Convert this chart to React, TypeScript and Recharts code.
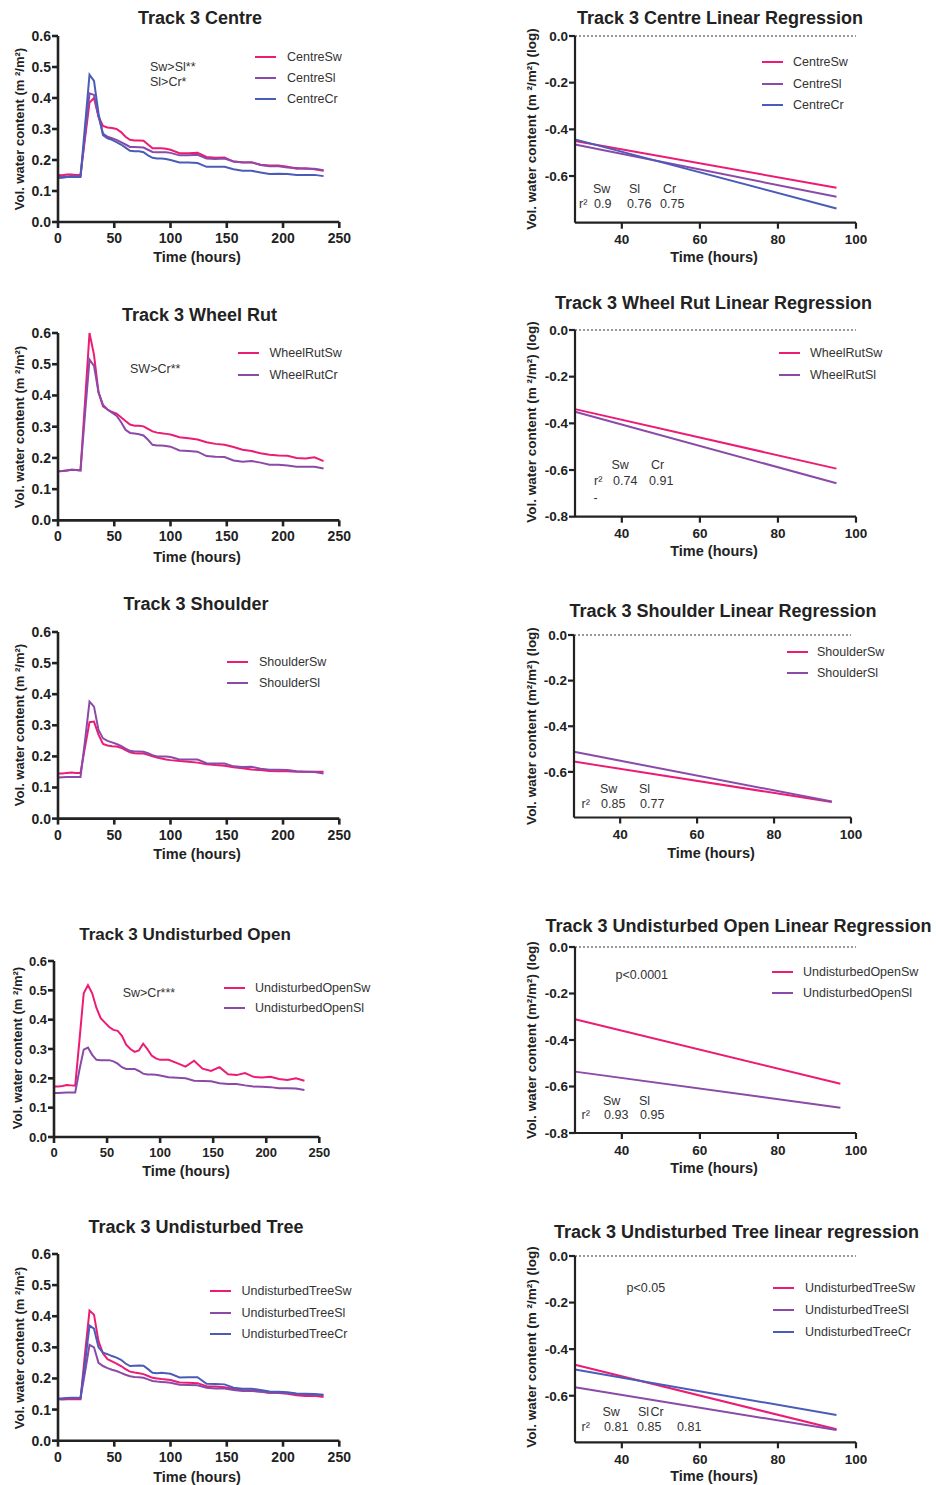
import React from "react";
import { LineChart, Line, XAxis, YAxis, ReferenceLine } from "recharts";

const FONT = '"Liberation Sans", Arial, Helvetica, sans-serif';
const INK = "#222";
const TEXT = "#333";
const SW = "#ec1c74";
const SL = "#8b4aa8";
const CR = "#4a5cb8";

// logger sampling times (hours after start)
const hours = [
  0, 4, 8, 12, 16, 20, 24, 28, 32, 36, 40, 44, 48, 52, 56, 60, 64, 68, 72, 76, 80, 84, 88, 92, 96, 100,
  108, 116, 124, 132, 140, 148, 156, 164, 172, 180, 188, 196, 204, 212, 220, 228, 236,
];
const timeTicks = [0, 50, 100, 150, 200, 250];
const vwcTicks = [0, 0.1, 0.2, 0.3, 0.4, 0.5, 0.6];

const centreSw = [
  0.152, 0.151, 0.153, 0.153, 0.152, 0.152, 0.27, 0.385, 0.4, 0.34, 0.31, 0.305, 0.303, 0.3, 0.29, 0.275, 0.265,
  0.263, 0.263, 0.262, 0.25, 0.238, 0.238, 0.238, 0.236, 0.233, 0.222, 0.222, 0.223, 0.21, 0.207, 0.208, 0.195,
  0.193, 0.192, 0.185, 0.182, 0.182, 0.178, 0.172, 0.173, 0.17, 0.165,
];
const centreSl = [
  0.145, 0.146, 0.147, 0.148, 0.148, 0.148, 0.28, 0.415, 0.41, 0.34, 0.285, 0.275, 0.27, 0.265, 0.258, 0.25, 0.242,
  0.242, 0.241, 0.24, 0.233, 0.226, 0.225, 0.225, 0.225, 0.223, 0.215, 0.215, 0.217, 0.205, 0.203, 0.205, 0.195,
  0.192, 0.193, 0.184, 0.18, 0.18, 0.176, 0.174, 0.172, 0.172, 0.167,
];
const centreCr = [
  0.142, 0.143, 0.145, 0.145, 0.145, 0.145, 0.31, 0.475, 0.455, 0.35, 0.28, 0.27, 0.265, 0.258, 0.25, 0.24, 0.23,
  0.228, 0.228, 0.225, 0.215, 0.207, 0.205, 0.205, 0.203, 0.2, 0.192, 0.192, 0.19, 0.178, 0.178, 0.178, 0.17,
  0.165, 0.165, 0.16, 0.155, 0.156, 0.155, 0.152, 0.152, 0.152, 0.148,
];

const wheelSw = [
  0.157, 0.158, 0.16, 0.162, 0.161, 0.16, 0.38, 0.6, 0.53, 0.41, 0.365, 0.355, 0.347, 0.342, 0.33, 0.318, 0.307,
  0.303, 0.303, 0.301, 0.293, 0.285, 0.281, 0.279, 0.277, 0.275, 0.266, 0.263, 0.259, 0.25, 0.245, 0.242, 0.235,
  0.226, 0.222, 0.215, 0.21, 0.208, 0.207, 0.2, 0.198, 0.202, 0.19,
];
const wheelCr = [
  0.157, 0.158, 0.16, 0.162, 0.161, 0.16, 0.34, 0.515, 0.495, 0.41, 0.37, 0.355, 0.345, 0.335, 0.315, 0.29, 0.28,
  0.278, 0.276, 0.272, 0.258, 0.242, 0.24, 0.24, 0.238, 0.236, 0.224, 0.222, 0.22, 0.206, 0.204, 0.203, 0.192,
  0.188, 0.19, 0.185, 0.178, 0.178, 0.176, 0.172, 0.172, 0.172, 0.166,
];

const shoulderSw = [
  0.145, 0.145, 0.147, 0.148, 0.147, 0.147, 0.23, 0.31, 0.312, 0.27, 0.24, 0.235, 0.233, 0.232, 0.228, 0.22, 0.213,
  0.21, 0.209, 0.209, 0.205, 0.2, 0.196, 0.193, 0.19, 0.188, 0.185, 0.183, 0.18, 0.175, 0.172, 0.17, 0.165, 0.162,
  0.158, 0.156, 0.153, 0.152, 0.152, 0.151, 0.151, 0.151, 0.151,
];
const shoulderSl = [
  0.132, 0.133, 0.134, 0.134, 0.134, 0.134, 0.25, 0.376, 0.36, 0.285, 0.258, 0.25, 0.245, 0.24, 0.234, 0.225, 0.218,
  0.216, 0.216, 0.215, 0.21, 0.204, 0.2, 0.2, 0.2, 0.198, 0.19, 0.19, 0.19, 0.178, 0.177, 0.177, 0.168, 0.166,
  0.167, 0.16, 0.157, 0.157, 0.156, 0.152, 0.151, 0.15, 0.145,
];

const openSw = [
  0.172, 0.172, 0.174, 0.177, 0.176, 0.175, 0.33, 0.49, 0.518, 0.49, 0.44, 0.405, 0.39, 0.375, 0.365, 0.362, 0.345,
  0.315, 0.3, 0.29, 0.295, 0.318, 0.3, 0.278, 0.268, 0.263, 0.263, 0.252, 0.24, 0.26, 0.233, 0.225, 0.238, 0.214,
  0.211, 0.218, 0.205, 0.203, 0.205, 0.198, 0.194, 0.2, 0.192,
];
const openSl = [
  0.15, 0.15, 0.151, 0.152, 0.152, 0.152, 0.23, 0.298, 0.305, 0.28, 0.263, 0.262, 0.262, 0.262, 0.258, 0.25, 0.238,
  0.232, 0.232, 0.232, 0.225, 0.216, 0.213, 0.213, 0.212, 0.21, 0.204, 0.202, 0.2, 0.192, 0.191, 0.19, 0.183, 0.181,
  0.181, 0.176, 0.172, 0.171, 0.17, 0.166, 0.166, 0.165, 0.16,
];

const treeSw = [
  0.133, 0.132, 0.133, 0.134, 0.133, 0.133, 0.28, 0.418, 0.405, 0.32, 0.28, 0.262, 0.255, 0.248, 0.24, 0.23, 0.222,
  0.219, 0.217, 0.214, 0.208, 0.202, 0.2, 0.198, 0.197, 0.195, 0.187, 0.186, 0.185, 0.175, 0.174, 0.172, 0.166,
  0.163, 0.162, 0.158, 0.154, 0.153, 0.151, 0.146, 0.144, 0.144, 0.14,
];
const treeSl = [
  0.135, 0.136, 0.137, 0.137, 0.137, 0.137, 0.22, 0.308, 0.3, 0.25, 0.24, 0.233, 0.228, 0.224, 0.218, 0.212, 0.207,
  0.205, 0.204, 0.202, 0.197, 0.192, 0.19, 0.189, 0.188, 0.186, 0.18, 0.179, 0.178, 0.17, 0.168, 0.168, 0.163, 0.16,
  0.16, 0.157, 0.154, 0.154, 0.153, 0.15, 0.149, 0.148, 0.146,
];
const treeCr = [
  0.135, 0.135, 0.137, 0.138, 0.138, 0.137, 0.25, 0.37, 0.36, 0.3, 0.283, 0.278, 0.272, 0.267, 0.26, 0.248, 0.24,
  0.241, 0.242, 0.241, 0.23, 0.218, 0.217, 0.218, 0.217, 0.215, 0.203, 0.204, 0.204, 0.183, 0.182, 0.181, 0.17,
  0.167, 0.167, 0.163, 0.158, 0.157, 0.156, 0.152, 0.151, 0.15, 0.148,
];

// regression fits of log VWC: value at the first and last fitted hour
const fitTicks = [40, 60, 80, 100];
const logTicks = [0, -0.2, -0.4, -0.6];
const logTicksFull = [0, -0.2, -0.4, -0.6, -0.8];

const centreFitHours = [28, 95];
const centreFitSw = [-0.45, -0.65];
const centreFitSl = [-0.465, -0.689];
const centreFitCr = [-0.443, -0.739];

const wheelFitHours = [28, 95];
const wheelFitSw = [-0.339, -0.594];
const wheelFitSl = [-0.35, -0.657];

const shoulderFitHours = [28, 95];
const shoulderFitSw = [-0.555, -0.732];
const shoulderFitSl = [-0.512, -0.73];

const openFitHours = [28, 96];
const openFitSw = [-0.311, -0.588];
const openFitSl = [-0.536, -0.691];

const treeFitHours = [28, 95];
const treeFitSw = [-0.467, -0.744];
const treeFitSl = [-0.564, -0.747];
const treeFitCr = [-0.487, -0.683];

const rows = (xs: number[], cols: Record<string, number[]>) =>
  xs.map((x, i) => {
    const r: Record<string, number> = { x };
    for (const k in cols) r[k] = cols[k][i];
    return r;
  });

type Box = { x0: number; x1: number; y0: number; y1: number };
type Series = { key: string; name: string; color: string };

const PAD_L = 60;
const PAD_T = 12;
const PAD_R = 14;
const PAD_B = 40;

function Plot(props: {
  box: Box;
  data: Record<string, number>[];
  series: Series[];
  xDomain: number[];
  xTicks: number[];
  yDomain: number[];
  yTicks: number[];
  fit?: boolean;
  tickFont?: number;
}) {
  const { box, data, series, xDomain, xTicks, yDomain, yTicks, fit, tickFont = 14 } = props;
  const w = box.x1 - box.x0 + PAD_L + PAD_R;
  const h = box.y1 - box.y0 + PAD_T + PAD_B;
  const tick = { fill: INK, fontSize: tickFont, fontWeight: 700, fontFamily: FONT };
  const axis = { stroke: INK, strokeWidth: fit ? 2.2 : 2.6 };
  return (
    <div style={{ position: "absolute", left: box.x0 - PAD_L, top: box.y0 - PAD_T }}>
      <LineChart width={w} height={h} data={data} margin={{ top: PAD_T, right: PAD_R, bottom: 0, left: 0 }}>
        <XAxis
          type="number"
          dataKey="x"
          domain={xDomain}
          ticks={xTicks}
          interval={0}
          height={PAD_B}
          axisLine={axis}
          tickLine={axis}
          tickSize={6}
          tickMargin={fit ? 6 : 5}
          tick={tick}
        />
        <YAxis
          type="number"
          domain={yDomain}
          ticks={yTicks}
          interval={0}
          width={PAD_L}
          axisLine={axis}
          tickLine={axis}
          tickSize={6}
          tickMargin={1}
          tick={tick}
          tickFormatter={(v: number) => v.toFixed(1)}
        />
        {fit && <ReferenceLine y={0} stroke="#333" strokeWidth={1} strokeDasharray="2 2" />}
        {series.map((s) => (
          <Line
            key={s.key}
            dataKey={s.key}
            name={s.name}
            type="linear"
            stroke={s.color}
            strokeWidth={2}
            dot={false}
            isAnimationActive={false}
          />
        ))}
      </LineChart>
    </div>
  );
}

function Label(props: {
  x: number;
  y: number;
  children: React.ReactNode;
  size?: number;
  bold?: boolean;
  start?: boolean;
  rotate?: boolean;
  color?: string;
}) {
  const { x, y, children, size = 12.5, bold, start, rotate, color = TEXT } = props;
  let transform = start ? "translate(0,-50%)" : "translate(-50%,-50%)";
  if (rotate) transform += " rotate(-90deg)";
  return (
    <div
      style={{
        position: "absolute",
        left: x,
        top: y,
        transform,
        whiteSpace: "nowrap",
        fontFamily: FONT,
        fontSize: size,
        fontWeight: bold ? 700 : 400,
        lineHeight: 1,
        color,
      }}
    >
      {children}
    </div>
  );
}

function Legend(props: { x: number; text: number; y: number; gap: number; series: Series[]; len?: number }) {
  const { x, text, y, gap, series, len = 21 } = props;
  return (
    <>
      {series.map((s, i) => (
        <React.Fragment key={s.key}>
          <div
            style={{
              position: "absolute",
              left: x,
              top: y + i * gap - 1,
              width: len,
              height: 2,
              background: s.color,
            }}
          />
          <Label x={text} y={y + i * gap} start>
            {s.name}
          </Label>
        </React.Fragment>
      ))}
    </>
  );
}

type Note = { x: number; y: number; text: string };

type PanelSpec = {
  box: Box;
  title: string;
  titleAt: number[];
  timeAt: number[];
  yTitle: string;
  yAt: number[];
  legend: { x: number; text: number; y: number; gap: number };
  notes: Note[];
  data: Record<string, number>[];
  series: Series[];
  fit?: boolean;
  yTicks?: number[];
  tickFont?: number;
  titleFont?: number;
};

function Panel({ p }: { p: PanelSpec }) {
  return (
    <>
      <Label x={p.titleAt[0]} y={p.titleAt[1]} size={p.titleFont ?? 18} bold color={INK}>
        {p.title}
      </Label>
      <Plot
        box={p.box}
        data={p.data}
        series={p.series}
        xDomain={p.fit ? [28, 100] : [0, 250]}
        xTicks={p.fit ? fitTicks : timeTicks}
        yDomain={p.fit ? [-0.8, 0] : [0, 0.6]}
        yTicks={p.yTicks ?? (p.fit ? logTicks : vwcTicks)}
        fit={p.fit}
        tickFont={p.tickFont ?? (p.fit ? 13.5 : 14)}
      />
      <Label x={p.timeAt[0]} y={p.timeAt[1]} size={14.5} bold color={INK}>
        Time (hours)
      </Label>
      <Label x={p.yAt[0]} y={p.yAt[1]} size={p.fit ? 13.5 : 13} bold rotate color={INK}>
        {p.yTitle}
      </Label>
      <Legend {...p.legend} series={p.series} />
      {p.notes.map((n, i) => (
        <Label key={i} x={n.x} y={n.y} start>
          {n.text}
        </Label>
      ))}
    </>
  );
}

const VWC = "Vol. water content (m \u00b2/m\u00b2)";
const VWC_LOG = "Vol. water content (m \u00b2/m\u00b2) (log)";
const VWC_LOG2 = "Vol. water content (m\u00b2/m\u00b2) (log)";

const panels: PanelSpec[] = [
  {
    box: { x0: 57.7, x1: 339, y0: 35.7, y1: 221.7 },
    title: "Track 3 Centre",
    titleAt: [200, 18],
    timeAt: [197, 257],
    yTitle: VWC,
    yAt: [19, 129],
    legend: { x: 255, text: 287, y: 56.5, gap: 21.3 },
    notes: [
      { x: 150, y: 66.5, text: "Sw>Sl**" },
      { x: 150, y: 81.5, text: "Sl>Cr*" },
    ],
    data: rows(hours, { sw: centreSw, sl: centreSl, cr: centreCr }),
    series: [
      { key: "sw", name: "CentreSw", color: SW },
      { key: "sl", name: "CentreSl", color: SL },
      { key: "cr", name: "CentreCr", color: CR },
    ],
  },
  {
    box: { x0: 575, x1: 856, y0: 36, y1: 222.7 },
    title: "Track 3 Centre Linear Regression",
    titleAt: [720, 18],
    timeAt: [714, 257],
    yTitle: VWC_LOG,
    yAt: [532, 129],
    legend: { x: 762, text: 793, y: 62.3, gap: 21.5 },
    notes: [
      { x: 593, y: 188.5, text: "Sw" },
      { x: 629, y: 188.5, text: "Sl" },
      { x: 663, y: 188.5, text: "Cr" },
      { x: 579, y: 203.5, text: "r\u00b2" },
      { x: 594, y: 203.5, text: "0.9" },
      { x: 627, y: 203.5, text: "0.76" },
      { x: 660, y: 203.5, text: "0.75" },
    ],
    data: rows(centreFitHours, { sw: centreFitSw, sl: centreFitSl, cr: centreFitCr }),
    series: [
      { key: "sw", name: "CentreSw", color: SW },
      { key: "sl", name: "CentreSl", color: SL },
      { key: "cr", name: "CentreCr", color: CR },
    ],
    fit: true,
  },
  {
    box: { x0: 57.7, x1: 339, y0: 333.3, y1: 520.7 },
    title: "Track 3 Wheel Rut",
    titleAt: [199.5, 315],
    timeAt: [197, 557],
    yTitle: VWC,
    yAt: [19, 427],
    legend: { x: 237.5, text: 269.5, y: 353.3, gap: 21.7 },
    notes: [{ x: 130, y: 369, text: "SW>Cr**" }],
    data: rows(hours, { sw: wheelSw, cr: wheelCr }),
    series: [
      { key: "sw", name: "WheelRutSw", color: SW },
      { key: "cr", name: "WheelRutCr", color: SL },
    ],
  },
  {
    box: { x0: 575, x1: 856, y0: 330, y1: 516.7 },
    title: "Track 3 Wheel Rut Linear Regression",
    titleAt: [713.5, 303],
    timeAt: [714, 551],
    yTitle: VWC_LOG,
    yAt: [532, 422],
    legend: { x: 778.5, text: 810, y: 353.3, gap: 21.7 },
    notes: [
      { x: 611.5, y: 465, text: "Sw" },
      { x: 651, y: 465, text: "Cr" },
      { x: 594, y: 481, text: "r\u00b2" },
      { x: 613, y: 481, text: "0.74" },
      { x: 649, y: 481, text: "0.91" },
      { x: 593.5, y: 498, text: "-" },
    ],
    data: rows(wheelFitHours, { sw: wheelFitSw, sl: wheelFitSl }),
    series: [
      { key: "sw", name: "WheelRutSw", color: SW },
      { key: "sl", name: "WheelRutSl", color: SL },
    ],
    fit: true,
    yTicks: logTicksFull,
  },
  {
    box: { x0: 57.7, x1: 339, y0: 631.7, y1: 818.3 },
    title: "Track 3 Shoulder",
    titleAt: [196, 604],
    timeAt: [197, 854],
    yTitle: VWC,
    yAt: [19, 725],
    legend: { x: 227, text: 259, y: 662, gap: 21.2 },
    notes: [],
    data: rows(hours, { sw: shoulderSw, sl: shoulderSl }),
    series: [
      { key: "sw", name: "ShoulderSw", color: SW },
      { key: "sl", name: "ShoulderSl", color: SL },
    ],
  },
  {
    box: { x0: 574, x1: 851, y0: 635, y1: 817.5 },
    title: "Track 3 Shoulder Linear Regression",
    titleAt: [723, 611],
    timeAt: [711, 853],
    yTitle: VWC_LOG2,
    yAt: [532, 726],
    legend: { x: 786.5, text: 817, y: 651.7, gap: 21.6 },
    notes: [
      { x: 600, y: 788.5, text: "Sw" },
      { x: 639, y: 788.5, text: "Sl" },
      { x: 581.5, y: 804, text: "r\u00b2" },
      { x: 601, y: 804, text: "0.85" },
      { x: 640, y: 804, text: "0.77" },
    ],
    data: rows(shoulderFitHours, { sw: shoulderFitSw, sl: shoulderFitSl }),
    series: [
      { key: "sw", name: "ShoulderSw", color: SW },
      { key: "sl", name: "ShoulderSl", color: SL },
    ],
    fit: true,
  },
  {
    box: { x0: 54, x1: 319.3, y0: 960.7, y1: 1136.7 },
    title: "Track 3 Undisturbed Open",
    titleAt: [185, 934],
    timeAt: [186, 1171],
    yTitle: VWC,
    yAt: [17, 1048],
    legend: { x: 223.5, text: 255, y: 988.3, gap: 20 },
    notes: [{ x: 122.7, y: 993, text: "Sw>Cr***" }],
    data: rows(hours, { sw: openSw, sl: openSl }),
    series: [
      { key: "sw", name: "UndisturbedOpenSw", color: SW },
      { key: "sl", name: "UndisturbedOpenSl", color: SL },
    ],
    tickFont: 13,
    titleFont: 17,
  },
  {
    box: { x0: 575, x1: 856, y0: 946.7, y1: 1132.7 },
    title: "Track 3 Undisturbed Open Linear Regression",
    titleAt: [738.5, 926],
    timeAt: [714, 1168],
    yTitle: VWC_LOG2,
    yAt: [532, 1040],
    legend: { x: 771.7, text: 803, y: 971.7, gap: 21.6 },
    notes: [
      { x: 615.5, y: 975, text: "p<0.0001" },
      { x: 603, y: 1100.5, text: "Sw" },
      { x: 639, y: 1100.5, text: "Sl" },
      { x: 581.5, y: 1115, text: "r\u00b2" },
      { x: 604, y: 1115, text: "0.93" },
      { x: 640, y: 1115, text: "0.95" },
    ],
    data: rows(openFitHours, { sw: openFitSw, sl: openFitSl }),
    series: [
      { key: "sw", name: "UndisturbedOpenSw", color: SW },
      { key: "sl", name: "UndisturbedOpenSl", color: SL },
    ],
    fit: true,
    yTicks: logTicksFull,
  },
  {
    box: { x0: 57.7, x1: 339, y0: 1254, y1: 1440.7 },
    title: "Track 3 Undisturbed Tree",
    titleAt: [196, 1227],
    timeAt: [197, 1477],
    yTitle: VWC,
    yAt: [19, 1348],
    legend: { x: 209.5, text: 241.5, y: 1291, gap: 21.5 },
    notes: [],
    data: rows(hours, { sw: treeSw, sl: treeSl, cr: treeCr }),
    series: [
      { key: "sw", name: "UndisturbedTreeSw", color: SW },
      { key: "sl", name: "UndisturbedTreeSl", color: SL },
      { key: "cr", name: "UndisturbedTreeCr", color: CR },
    ],
  },
  {
    box: { x0: 575, x1: 856, y0: 1255.7, y1: 1442 },
    title: "Track 3 Undisturbed Tree linear regression",
    titleAt: [736.5, 1232],
    timeAt: [714, 1476],
    yTitle: VWC_LOG,
    yAt: [532, 1347],
    legend: { x: 773.3, text: 805, y: 1287.7, gap: 22 },
    notes: [
      { x: 626.5, y: 1287.7, text: "p<0.05" },
      { x: 602.5, y: 1411.5, text: "Sw" },
      { x: 638, y: 1411.5, text: "Sl" },
      { x: 650.5, y: 1411.5, text: "Cr" },
      { x: 581.5, y: 1426.7, text: "r\u00b2" },
      { x: 604, y: 1426.7, text: "0.81" },
      { x: 637, y: 1426.7, text: "0.85" },
      { x: 677, y: 1426.7, text: "0.81" },
    ],
    data: rows(treeFitHours, { sw: treeFitSw, sl: treeFitSl, cr: treeFitCr }),
    series: [
      { key: "sw", name: "UndisturbedTreeSw", color: SW },
      { key: "sl", name: "UndisturbedTreeSl", color: SL },
      { key: "cr", name: "UndisturbedTreeCr", color: CR },
    ],
    fit: true,
  },
];

export default function App() {
  return (
    <div
      style={{
        position: "absolute",
        left: 0,
        top: 0,
        width: 936,
        height: 1485,
        background: "#fff",
        overflow: "hidden",
      }}
    >
      {panels.map((p) => (
        <Panel key={p.title} p={p} />
      ))}
    </div>
  );
}
